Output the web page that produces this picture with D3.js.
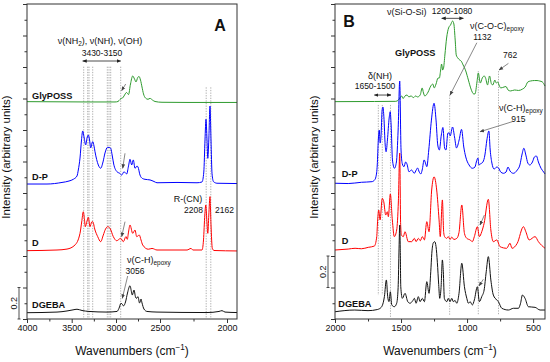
<!DOCTYPE html>
<html><head><meta charset="utf-8">
<script src="https://cdn.jsdelivr.net/npm/d3@7"></script>
<style>body{margin:0;background:#fff}svg{display:block}text{font-family:"Liberation Sans",Arial,Helvetica,sans-serif}</style>
</head><body><svg id="c" width="550" height="362"></svg>
<script>
// ---------- DATA ----------
const seriesNames = ["GlyPOSS","D-P","D","DGEBA"];
const seriesColors = ["#2e9b2e","#0000ff","#ff0000","#111111"];
const xTicksA = [4000,3500,3000,2500,2000];
// wavenumber position (on the plotted scale) under which each panel-A label is printed in the source figure
const xTickPosA = [4000,3553,3110,2670,2000];
const xTicksB = [2000,1500,1000,500];
const yTicks = [0,0.2,0.4,0.6,0.8,1.0,1.2,1.4,1.6,1.8,2.0];

// Panel A (4000-1900 cm-1): [wavenumber, intensity]
const glyA = [[4000,1.380],[3700,1.379],[3400,1.378],[3120,1.378],[3090,1.381],[3070,1.394],[3060,1.400],[3045,1.403],[3030,1.416],[3005,1.438],[2985,1.425],[2965,1.492],[2943,1.543],[2925,1.524],[2910,1.505],[2893,1.533],[2880,1.540],[2865,1.517],[2850,1.473],[2835,1.429],[2815,1.403],[2790,1.395],[2770,1.401],[2745,1.390],[2720,1.381],[2650,1.376],[2400,1.375],[1900,1.375]];
const dpA = [[4000,0.857],[3800,0.857],[3650,0.867],[3580,0.876],[3537,0.887],[3500,0.908],[3487,0.946],[3470,1.022],[3455,1.137],[3443,1.194],[3430,1.156],[3413,1.105],[3400,1.149],[3387,1.168],[3373,1.130],[3363,1.086],[3350,1.117],[3343,1.126],[3330,1.098],[3320,1.062],[3287,0.978],[3263,0.957],[3240,0.997],[3220,1.054],[3195,1.090],[3173,1.089],[3163,1.084],[3147,1.035],[3133,0.984],[3100,0.935],[3073,0.925],[3053,0.914],[3030,0.935],[3003,0.921],[2985,0.971],[2970,1.014],[2953,0.978],[2937,1.010],[2920,0.957],[2900,0.971],[2890,0.965],[2870,0.914],[2845,0.892],[2820,0.887],[2770,0.883],[2730,0.873],[2700,0.865],[2500,0.867],[2300,0.865],[2250,0.870],[2232,0.933],[2220,1.137],[2210,1.268],[2200,1.137],[2192,1.020],[2182,1.137],[2170,1.352],[2160,1.137],[2150,0.925],[2135,0.872],[2100,0.862],[1900,0.860]];
const dA = [[4000,0.434],[3700,0.438],[3600,0.444],[3520,0.470],[3470,0.544],[3453,0.616],[3437,0.681],[3425,0.629],[3417,0.586],[3400,0.622],[3387,0.646],[3370,0.586],[3353,0.616],[3343,0.618],[3320,0.565],[3293,0.523],[3263,0.491],[3237,0.533],[3215,0.571],[3193,0.586],[3170,0.576],[3137,0.523],[3103,0.497],[3063,0.512],[3037,0.491],[3010,0.523],[2997,0.506],[2985,0.552],[2970,0.597],[2943,0.544],[2920,0.565],[2903,0.523],[2877,0.533],[2860,0.502],[2843,0.470],[2787,0.443],[2750,0.448],[2700,0.438],[2400,0.438],[2360,0.448],[2340,0.438],[2250,0.438],[2235,0.502],[2222,0.660],[2212,0.724],[2202,0.629],[2192,0.544],[2182,0.660],[2170,0.777],[2160,0.597],[2147,0.449],[2130,0.435],[1900,0.432]];
const dgebaA = [[4000,0.040],[3700,0.044],[3600,0.051],[3540,0.058],[3500,0.062],[3450,0.054],[3380,0.048],[3200,0.044],[3100,0.048],[3080,0.068],[3060,0.100],[3045,0.092],[3035,0.083],[3015,0.108],[2995,0.165],[2970,0.211],[2955,0.171],[2947,0.152],[2930,0.184],[2915,0.140],[2905,0.131],[2890,0.142],[2875,0.102],[2868,0.108],[2860,0.127],[2850,0.102],[2830,0.063],[2800,0.048],[2700,0.044],[2200,0.041],[2080,0.048],[2050,0.053],[2020,0.044],[1900,0.041]];

// Panel B (2000-410 cm-1)
const glyB = [[2000,1.380],[1700,1.381],[1540,1.382],[1520,1.390],[1495,1.416],[1485,1.400],[1470,1.416],[1455,1.422],[1440,1.410],[1425,1.416],[1405,1.406],[1390,1.416],[1375,1.410],[1355,1.422],[1340,1.467],[1330,1.435],[1320,1.416],[1295,1.441],[1275,1.479],[1260,1.492],[1248,1.467],[1235,1.492],[1220,1.530],[1210,1.530],[1200,1.581],[1193,1.619],[1185,1.581],[1178,1.594],[1168,1.676],[1155,1.784],[1140,1.848],[1125,1.867],[1110,1.892],[1100,1.873],[1090,1.771],[1082,1.676],[1070,1.657],[1055,1.644],[1045,1.638],[1030,1.613],[1010,1.575],[990,1.517],[970,1.460],[950,1.429],[940,1.429],[925,1.505],[915,1.562],[900,1.498],[885,1.530],[870,1.543],[860,1.530],[845,1.486],[830,1.543],[815,1.492],[805,1.486],[790,1.517],[778,1.498],[768,1.505],[755,1.479],[745,1.467],[720,1.473],[705,1.476],[690,1.454],[670,1.448],[640,1.454],[610,1.451],[580,1.460],[560,1.473],[540,1.505],[520,1.511],[490,1.514],[470,1.514],[450,1.511],[430,1.505],[410,1.479]];
const dpB = [[2000,0.862],[1900,0.860],[1800,0.868],[1720,0.872],[1700,0.883],[1690,0.903],[1680,0.978],[1672,1.137],[1665,1.200],[1658,1.117],[1652,1.156],[1643,1.327],[1637,1.346],[1630,1.284],[1620,1.105],[1613,1.062],[1603,1.137],[1590,1.276],[1582,1.316],[1575,1.232],[1565,1.010],[1550,0.957],[1535,0.997],[1522,1.200],[1510,1.511],[1500,1.073],[1490,0.984],[1478,0.967],[1465,0.997],[1455,0.984],[1440,0.935],[1420,0.946],[1400,0.925],[1385,0.946],[1375,0.959],[1362,0.933],[1350,0.921],[1340,0.946],[1325,1.010],[1315,0.990],[1305,0.967],[1290,1.073],[1270,1.263],[1250,1.370],[1235,1.263],[1222,1.105],[1210,1.073],[1195,1.168],[1183,1.216],[1170,1.086],[1160,1.073],[1145,1.181],[1135,1.181],[1128,1.162],[1110,1.219],[1095,1.156],[1080,1.086],[1060,1.137],[1042,1.204],[1025,1.092],[1010,1.029],[985,0.978],[960,0.957],[940,0.965],[930,0.997],[918,1.022],[910,0.978],[900,0.984],[880,0.997],[865,1.041],[850,1.137],[835,1.194],[825,1.073],[812,0.990],[795,0.952],[775,0.965],[762,0.959],[745,0.933],[725,0.925],[705,0.933],[690,0.965],[675,0.940],[650,0.925],[620,0.946],[600,0.978],[585,1.041],[570,1.084],[555,1.041],[540,0.990],[525,0.978],[505,0.997],[490,1.029],[475,1.035],[460,0.997],[440,0.957],[420,0.933],[410,0.921]];
const dB = [[2000,0.438],[1900,0.444],[1848,0.449],[1800,0.446],[1748,0.455],[1702,0.463],[1684,0.523],[1677,0.629],[1669,0.692],[1659,0.629],[1642,0.766],[1631,0.745],[1616,0.660],[1604,0.681],[1596,0.650],[1581,0.794],[1566,0.629],[1551,0.523],[1533,0.565],[1520,0.750],[1510,1.054],[1503,0.600],[1497,0.533],[1483,0.523],[1470,0.554],[1445,0.491],[1419,0.491],[1399,0.512],[1386,0.491],[1369,0.512],[1354,0.497],[1339,0.523],[1323,0.502],[1305,0.618],[1288,0.554],[1268,0.819],[1250,0.903],[1230,0.819],[1212,0.629],[1203,0.523],[1187,0.756],[1177,0.550],[1170,0.523],[1154,0.512],[1142,0.523],[1129,0.505],[1116,0.520],[1100,0.505],[1078,0.512],[1061,0.550],[1040,0.724],[1020,0.544],[1002,0.512],[977,0.502],[960,0.491],[945,0.523],[922,0.586],[907,0.523],[889,0.554],[871,0.608],[839,0.760],[820,0.565],[801,0.491],[775,0.502],[750,0.459],[700,0.449],[675,0.481],[660,0.449],[620,0.481],[573,0.586],[555,0.554],[530,0.502],[485,0.523],[460,0.491],[410,0.449]];
const dgebaB = [[2000,0.046],[1850,0.057],[1750,0.053],[1680,0.060],[1650,0.074],[1626,0.142],[1611,0.248],[1601,0.142],[1591,0.110],[1581,0.173],[1570,0.089],[1551,0.078],[1533,0.100],[1522,0.200],[1515,0.450],[1510,0.597],[1506,0.450],[1502,0.205],[1490,0.131],[1470,0.163],[1449,0.110],[1432,0.100],[1412,0.115],[1399,0.131],[1386,0.100],[1369,0.142],[1356,0.110],[1339,0.131],[1323,0.110],[1305,0.237],[1288,0.163],[1275,0.300],[1267,0.417],[1255,0.485],[1245,0.491],[1235,0.460],[1225,0.360],[1215,0.220],[1207,0.131],[1197,0.200],[1187,0.375],[1180,0.300],[1172,0.131],[1154,0.110],[1142,0.131],[1129,0.110],[1116,0.131],[1104,0.110],[1091,0.118],[1078,0.100],[1061,0.163],[1040,0.354],[1020,0.205],[1002,0.131],[990,0.100],[977,0.110],[960,0.089],[945,0.121],[922,0.205],[907,0.110],[889,0.142],[871,0.184],[855,0.300],[839,0.396],[820,0.248],[801,0.152],[775,0.121],[763,0.110],[737,0.068],[687,0.057],[649,0.068],[611,0.068],[595,0.100],[581,0.152],[561,0.131],[536,0.078],[485,0.074],[447,0.057],[410,0.057]];

// guide (dotted) lines: [wavenumber, from, to]
const guidesA = [[3433,1.602,0.01],[3393,1.602,0.01],[3380,1.602,0.01],[3343,1.602,0.01],[3197,1.602,0.01],[3180,1.602,0.01],[3163,1.602,0.01],[3063,1.602,0.01],[2208,1.471,0.006],[2162,1.471,0.006]];
const guidesB = [[1672,1.359,0.152],[1642,1.359,0.152],[1580,1.359,0.013],[1132,1.422,0.025],[915,1.574,0.025],[762,1.574,0.025]];

// ---------- DRAW ----------
const svg = d3.select("#c");
const FONT = '"Liberation Sans",Arial,sans-serif';
const defs = svg.append("defs");
defs.append("marker").attr("id","ah").attr("viewBox","0 0 10 10").attr("refX",9).attr("refY",5)
  .attr("markerUnits","userSpaceOnUse").attr("markerWidth",4.5).attr("markerHeight",4.5).attr("orient","auto-start-reverse")
  .append("path").attr("d","M0,1L10,5L0,9Z").attr("fill","#222");
defs.append("marker").attr("id","ahg").attr("viewBox","0 0 10 10").attr("refX",9).attr("refY",5)
  .attr("markerUnits","userSpaceOnUse").attr("markerWidth",4.5).attr("markerHeight",4.5).attr("orient","auto-start-reverse")
  .append("path").attr("d","M0,1L10,5L0,9Z").attr("fill","#444");

const y = d3.scaleLinear().domain([0,2]).range([319,4]);

function addText(g, parts, x, yy, opts={}) {
  const t = g.append("text").attr("x",x).attr("y",yy)
    .attr("font-size",opts.size||9).attr("text-anchor",opts.anchor||"start")
    .attr("font-weight",opts.bold?"bold":"normal").attr("fill","#111");
  if (opts.rotate) t.attr("transform",`rotate(-90,${x},${yy})`);
  parts.forEach(p=>{
    const s = t.append("tspan").text(p.t);
    if (p.sub) s.attr("font-size",(opts.size||9)*0.72).attr("dy",2);
    if (p.unsub) s.attr("dy",-2);
    if (p.sup) s.attr("font-size",(opts.size||9)*0.68).attr("dy",-5);
    if (p.unsup) s.attr("dy",5);
  });
  return t;
}

function panel(cfg) {
  const x = d3.scaleLinear().domain(cfg.domain).range(cfg.range);
  const g = svg.append("g");
  const [x0,x1] = cfg.range;
  cfg.guides.forEach(d=>{
    g.append("line").attr("x1",x(d[0])).attr("x2",x(d[0])).attr("y1",y(d[1])).attr("y2",y(d[2]))
      .attr("stroke","#8c8c8c").attr("stroke-width",0.7).attr("stroke-dasharray","1.3,1.3");
  });
  const line = d3.line().x(d=>x(d[0])).y(d=>y(d[1])).curve(d3.curveMonotoneX);
  cfg.series.forEach((s,i)=>{
    g.append("path").attr("d",line(s)).attr("fill","none").attr("stroke",seriesColors[i]).attr("stroke-width",1).attr("stroke-linejoin","round");
  });
  g.append("rect").attr("x",x0).attr("y",4).attr("width",x1-x0).attr("height",315).attr("fill","none").attr("stroke","#333").attr("stroke-width",1);
  const ya = g.append("g").attr("transform",`translate(${x0},0)`)
    .call(d3.axisLeft(y).tickValues(yTicks).tickSize(4).tickFormat(""));
  ya.select(".domain").remove();
  const yminor = yTicks.slice(0,-1).map(v=>v+0.1);
  const ym = g.append("g").attr("transform",`translate(${x0},0)`)
    .call(d3.axisLeft(y).tickValues(yminor).tickSize(2.5).tickFormat(""));
  ym.select(".domain").remove();
  const labelOf = new Map(cfg.xtickPos.map((p,i)=>[p,cfg.xticks[i]]));
  const xa = g.append("g").attr("transform","translate(0,319)")
    .call(d3.axisBottom(x).tickValues(cfg.xtickPos).tickSize(4).tickPadding(2).tickFormat(d=>String(labelOf.get(d))));
  xa.select(".domain").remove();
  xa.selectAll("text").attr("font-size",9).attr("font-family",FONT).attr("fill","#111");
  const mids = cfg.xtickPos.slice(0,-1).map((p,i)=>(p+cfg.xtickPos[i+1])/2);
  const xm = g.append("g").attr("transform","translate(0,319)")
    .call(d3.axisBottom(x).tickValues(mids).tickSize(2.5).tickFormat(""));
  xm.select(".domain").remove();
  g.selectAll(".tick line").attr("stroke","#333");
  addText(g,[{t:"Wavenumbers (cm"},{t:"\u22121",sup:true},{t:")",unsup:true}],(x0+x1)/2,355,{size:12,anchor:"middle"});
  addText(g,[{t:"Intensity (arbitrary units)"}],x0-17,157,{size:11.5,anchor:"middle",rotate:true});
  cfg.labels.forEach(l=>addText(g,[{t:l.t}],x(l.wn),y(l.v),{size:9.2,bold:true}));
  cfg.texts.forEach(a=>addText(g,a.parts,x(a.wn),y(a.v),{size:a.size||8.5,anchor:a.anchor||"middle",bold:a.bold}));
  cfg.arrows.forEach(a=>{
    g.append("line").attr("x1",x(a[0])).attr("y1",y(a[1])).attr("x2",x(a[2])).attr("y2",y(a[3]))
      .attr("stroke","#555").attr("stroke-width",0.7).attr("marker-end","url(#ahg)");
  });
  cfg.darrows.forEach(a=>{
    g.append("line").attr("x1",x(a[0])).attr("x2",x(a[1])).attr("y1",y(a[2])).attr("y2",y(a[2]))
      .attr("stroke","#222").attr("stroke-width",0.8).attr("marker-end","url(#ah)").attr("marker-start","url(#ah)");
  });
  const sb = cfg.scalebar, sx = x0 - sb.dx;
  g.append("line").attr("x1",sx).attr("x2",sx).attr("y1",y(sb.from)).attr("y2",y(sb.to)).attr("stroke","#222").attr("stroke-width",0.8);
  [sb.from,sb.to].forEach(v=>g.append("line").attr("x1",sx-1.5).attr("x2",sx+1.5).attr("y1",y(v)).attr("y2",y(v)).attr("stroke","#222").attr("stroke-width",0.8));
  addText(g,[{t:"0.2"}],sx-2,(y(sb.from)+y(sb.to))/2,{size:9,anchor:"middle",rotate:true});
}

panel({
  domain:[4000,1900], range:[27,237], xticks:xTicksA, xtickPos:xTickPosA,
  series:[glyA,dpA,dA,dgebaA], guides:guidesA,
  labels:[{t:seriesNames[0],wn:3950,v:1.394},{t:seriesNames[1],wn:3950,v:0.883},{t:seriesNames[2],wn:3950,v:0.465},{t:seriesNames[3],wn:3950,v:0.068}],
  texts:[
    {parts:[{t:"A"}],wn:2070,v:1.830,size:16,bold:true},
    {parts:[{t:"\u03bd(NH"},{t:"2",sub:true},{t:"), \u03bd(NH), \u03bd(OH)",unsub:true}],wn:3270,v:1.746,size:9},
    {parts:[{t:"3430-3150"}],wn:3250,v:1.670},
    {parts:[{t:"R-(CN)"}],wn:2390,v:0.743,size:9},
    {parts:[{t:"2208"}],wn:2240,v:0.673,anchor:"end"},
    {parts:[{t:"2162"}],wn:2120,v:0.673,anchor:"start"},
    {parts:[{t:"\u03bd(C-H)"},{t:"epoxy",sub:true}],wn:3000,v:0.356,anchor:"start",size:9},
    {parts:[{t:"3056"}],wn:2920,v:0.286}
  ],
  arrows:[[3013,1.492,3053,1.450],[3020,1.052,3043,0.957],[3020,0.618,3053,0.523],[2993,0.273,3047,0.131]],
  darrows:[[3443,3063,1.638]],
  scalebar:{dx:8,from:0.0,to:0.2}
});

panel({
  domain:[2000,410], range:[335,545], xticks:xTicksB, xtickPos:xTicksB,
  series:[glyB,dpB,dB,dgebaB], guides:guidesB,
  labels:[{t:seriesNames[0],wn:1545,v:1.670},{t:seriesNames[1],wn:1949,v:0.903},{t:seriesNames[2],wn:1949,v:0.476},{t:seriesNames[3],wn:1975,v:0.074}],
  texts:[
    {parts:[{t:"B"}],wn:1894,v:1.856,size:16,bold:true},
    {parts:[{t:"\u03bd(Si-O-Si)"}],wn:1457,v:1.927,size:9},
    {parts:[{t:"1200-1080"}],wn:1114,v:1.937},
    {parts:[{t:"\u03bd(C-O-C)"},{t:"epoxy",sub:true}],wn:977,v:1.841,anchor:"start",size:9},
    {parts:[{t:"1132"}],wn:884,v:1.771},
    {parts:[{t:"762"}],wn:674,v:1.659},
    {parts:[{t:"\u03b4(NH)"}],wn:1659,v:1.524,size:9},
    {parts:[{t:"1650-1500"}],wn:1697,v:1.460},
    {parts:[{t:"\u03bd(C-H)"},{t:"epoxy",sub:true}],wn:758,v:1.321,anchor:"start",size:9},
    {parts:[{t:"915"}],wn:611,v:1.253}
  ],
  arrows:[[926,1.754,1129,1.422],[687,1.623,758,1.581],[657,1.253,902,1.189],[869,0.660,902,0.597],[877,0.252,909,0.210]],
  darrows:[[1192,1028,1.909],[1702,1576,1.422]],
  scalebar:{dx:7,from:0.2,to:0.4}
});
</script></body></html>
